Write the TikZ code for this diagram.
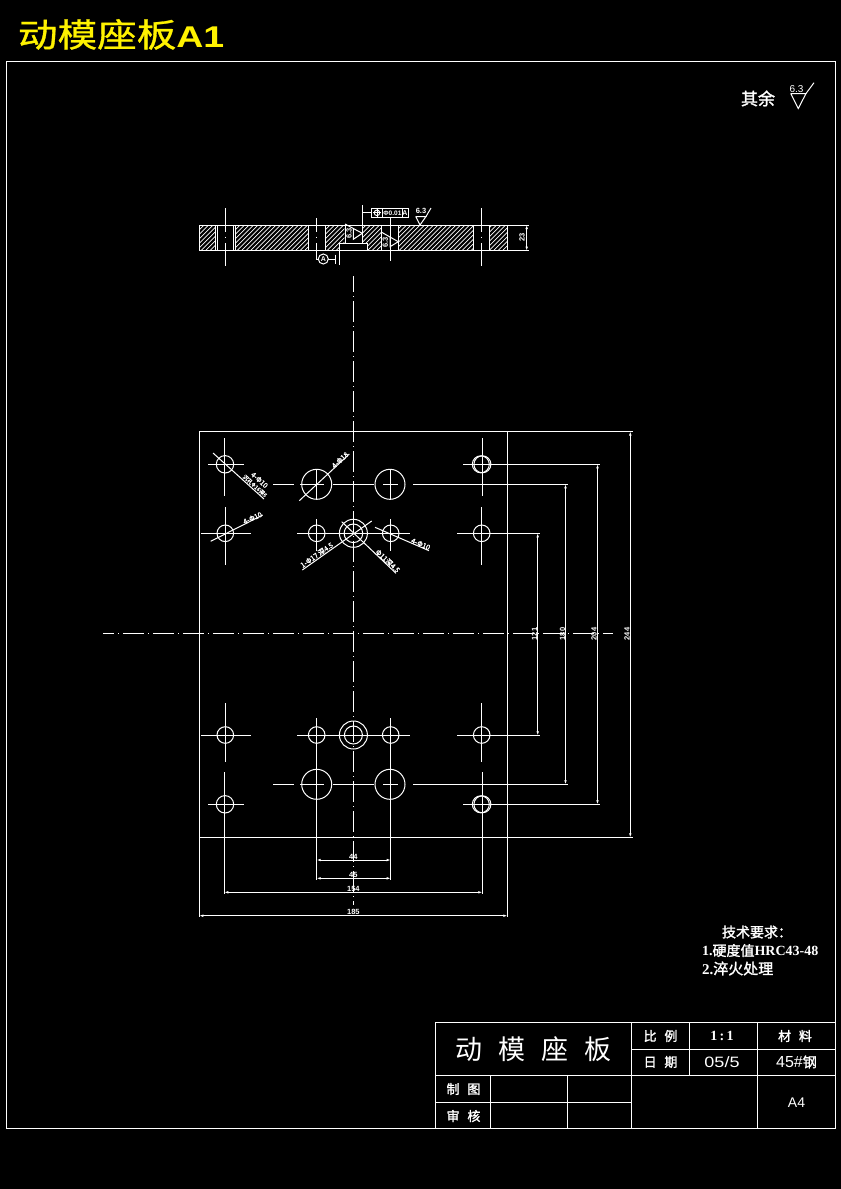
\documentclass[tikz,border=0pt]{standalone}
\usepackage{fontspec}
\usepackage{graphicx}
\usetikzlibrary{arrows.meta}
\setmainfont{Liberation Sans}
\newfontfamily\cjk{Noto Sans CJK SC}
\newfontfamily\cjkb[FakeBold=1.6]{Noto Sans CJK SC}
\newfontfamily\cjkt[FakeBold=0.8]{Noto Sans CJK SC}
\newfontfamily\sansb{Liberation Sans Bold}
\newfontfamily\serifb{Liberation Serif Bold}
\newcommand{\fs}[1]{\pgfmathsetmacro{\fz}{#1*0.75}\fontsize{\fz pt}{\fz pt}\selectfont}
\tikzset{
  cad/.style={draw=white,line width=0.75pt},
  hatchline/.style={draw=white,line width=0.6pt},
  centerh/.style={cad,dash pattern=on 15.75pt off 3pt on .75pt off 3pt,dash phase=7.5pt},
  centerv/.style={cad,dash pattern=on 15.75pt off 3pt on .75pt off 3pt,dash phase=3.75pt},
  dimline/.style={cad,{Latex[length=3pt,width=2pt]}-{Latex[length=3pt,width=2pt]}},
  lab/.style={text=white,inner sep=0pt,outer sep=0pt},
  dimtext/.style={lab,font=\fs{7.5}\sansb},
  leadtext/.style={lab,font=\fs{7}\cjkb},
  cell/.style={lab,font=\fs{13}\cjkb},
  req/.style={lab,font=\fs{14}\cjkb,anchor=west},
}
\begin{document}
\begin{tikzpicture}[x=0.75pt,y=-0.75pt]
\useasboundingbox (0,0) rectangle (841,1189);
\fill[black] (0,0) rectangle (841,1189);
% title
\node[lab,anchor=base west,text=yellow,font=\fs{33}\cjkt] (title) at (18,47) {\scalebox{1.2}[1]{动模座板}{\fs{30}\sansb\scalebox{1.25}[1]{A1}}};
% frame
\draw[cad] (6.5,61.5) rectangle (835,1128);
% roughness other
\node[lab,font=\fs{17}\cjkb] (rest) at (758,98.5) {其余};
\node[lab,font=\fs{10}] (ra) at (796.5,89) {6.3};
\draw[cad] (790.7,93.5) -- (806,93.5) -- (798.3,108.5) -- (790.7,93.5);
\draw[cad] (806,93.5) -- (814,82.7);

% ---------- section view
\begin{scope}
\clip (199.3,225) rectangle (215.7,250.6)
      (235,225) rectangle (308.3,250.6)
      (325.3,225) rectangle (339.3,250.6)
      (339.3,225) rectangle (344.3,243.3)
      (362.3,225) rectangle (367.3,243.3)
      (367.3,225) rectangle (381.7,250.6)
      (398.3,225) rectangle (473.3,250.6)
      (489.3,225) rectangle (507.3,250.6);
\foreach \k in {0,...,80}{
  \draw[hatchline] ({165+\k*4.5},250.6) -- ({190.6+\k*4.5},225);
}
\end{scope}
\draw[cad] (199.3,225) -- (529,225);
\draw[cad] (199.3,250.6) -- (529,250.6);
\foreach \xx in {199.3,215.7,217.3,233.3,235,308.3,325.3,381.7,398.3,473.3,489.3,507.3}{
  \draw[cad] (\xx,225) -- (\xx,250.6);
}
% recess
\draw[cad] (339.3,265) -- (339.3,243.3) -- (367.3,243.3) -- (367.3,250.6);
% section centre lines
\foreach \xx/\ya/\yb in {225/208/265.7,316.3/218/260,481/208/265.7}{
  \draw[cad] (\xx,\ya) -- (\xx,232);
  \draw[cad] (\xx,236.6) -- (\xx,237.6);
  \draw[cad] (\xx,243) -- (\xx,\yb);
}
% dim 23
\draw[dimline] (526.7,225) -- (526.7,250.6);
\node[dimtext,rotate=90] (d23) at (522,237.5) {23};
% datum A
\node[lab,draw=white,line width=.75pt,circle,minimum size=7.5pt,font=\fs{7}\sansb] (datum) at (323.3,259) {A};
\coordinate (datumstem) at (316.3,259);
\coordinate (datumtick) at (335.7,259);
\draw[cad] (datumstem) -- (datum);
\draw[cad] (datum) -- (datumtick);
\draw[cad] (335.7,254.5) -- (335.7,264);
% feature control frame
\draw[cad] (362.3,243.3) -- (362.3,205);
\draw[cad] (362.3,212.8) -- (371.3,212.8);
\draw[cad] (371.3,208) rectangle (408,217.6);
\draw[cad] (382.7,208) -- (382.7,217.6);
\draw[cad] (402,208) -- (402,217.6);
\draw[cad] (377,212.8) circle (2.8);
\draw[cad] (372.6,212.8) -- (381.4,212.8);
\draw[cad] (377,208.6) -- (377,217);
\node[lab,font=\fs{6.5}\sansb] (tol) at (392.4,213) {Φ0.01};
\node[lab,font=\fs{7}\sansb] (tola) at (405,213) {A};
\draw[cad] (390.3,217.6) -- (390.3,260.6);
% surface symbol on top
\node[lab,font=\fs{7.5}\sansb] (r1) at (421,211) {6.3};
\draw[cad] (415.7,216.5) -- (426,216.5) -- (420,225) -- (415.7,216.5);
\draw[cad] (426,216.5) -- (431,208);
% sideways symbols
\draw[cad] (345,224) -- (345,243.3);
\draw[cad] (345,224) -- (362.3,233.3);
\draw[cad] (353.3,229) -- (353.3,239.3) -- (362.3,233.3);
\node[dimtext,rotate=90] (r2) at (349,233.5) {6.3};
\draw[cad] (381.7,232.3) -- (398.3,241.7);
\draw[cad] (390,236.7) -- (390,246.7) -- (398.3,241.7);
\node[dimtext,rotate=90] (r3) at (385.3,242.5) {6.3};

% ---------- plan view
\draw[centerv] (353.4,276) -- (353.4,905);
\draw[centerh] (103,633.5) -- (613,633.5);
% plate outline & extension
\draw[cad] (632.7,431.5) -- (199.3,431.5) -- (199.3,917);
\draw[cad] (507.3,431.5) -- (507.3,917);
\draw[cad] (199.3,837.3) -- (632.7,837.3);
% holes
\foreach \cx/\cy/\r in {
  225/464.3/8.7, 225.3/533.3/8.3, 480.8/464.3/8.5, 482.4/464.3/8.5, 481.7/533.3/8.3,
  316.7/484.3/15, 390/484.3/15, 316.7/533.3/8.3, 390.7/533.3/8.3,
  353.4/533.3/14, 353.4/533.3/9.3,
  225.3/735/8.3, 316.7/735/8.3, 390.7/735/8.3, 353.4/735/14, 353.4/735/9, 481.7/735/8.3,
  316.7/784.3/15, 390/784.3/15, 225/804.3/8.7, 480.8/804.3/8.5, 482.4/804.3/8.5}{
  \draw[cad] (\cx,\cy) circle (\r);
}
% crosses
\foreach \xa/\ya/\xb/\yb in {
  224.3/438/224.3/495.7, 208/464.3/244/464.3,
  225.3/507.3/225.3/565, 201/533.3/251/533.3,
  482.3/438/482.3/495.7, 463/464.3/600/464.3,
  481.7/507.3/481.7/565, 457/533.3/539.7/533.3,
  273/484.3/294.3/484.3, 300/484.3/324/484.3, 333/484.3/374/484.3, 383/484.3/397.7/484.3, 413/484.3/567.7/484.3,
  316.7/469/316.7/500, 390/469/390/500,
  297/533.3/410/533.3, 316.7/519.3/316.7/550.7, 390.7/519.3/390.7/550.7,
  225.3/703.3/225.3/761.7, 201/735/251/735,
  481.7/703.3/481.7/761.7, 457/735/539.7/735,
  297/735/410/735, 316.7/718/316.7/880, 390.7/718/390.7/880,
  273/784.3/294.3/784.3, 300/784.3/324/784.3, 333/784.3/374/784.3, 383/784.3/397.7/784.3, 413/784.3/567.7/784.3,
  390/769/390/800,
  224.3/772/224.3/894.3, 208/804.3/244/804.3,
  482.3/772/482.3/894.3, 463/804.3/600/804.3}{
  \draw[cad] (\xa,\ya) -- (\xb,\yb);
}
% dimensions right
\draw[dimline] (537.7,533.3) -- (537.7,735.3);
\draw[dimline] (565.5,484.3) -- (565.5,784.3);
\draw[dimline] (597.5,464.3) -- (597.5,804.3);
\draw[dimline] (630.3,431.5) -- (630.3,837.3);
\node[dimtext,rotate=90] (v1) at (534.5,634) {121};
\node[dimtext,rotate=90] (v2) at (562.5,634) {180};
\node[dimtext,rotate=90] (v3) at (594,634) {204};
\node[dimtext,rotate=90] (v4) at (627,634) {244};
% dimensions bottom
\draw[dimline] (316.7,860) -- (390.7,860);
\draw[dimline] (316.7,878.3) -- (390.7,878.3);
\draw[dimline] (224.3,892.3) -- (482.3,892.3);
\draw[dimline] (199.3,915.7) -- (507.3,915.7);
\node[dimtext] (h1) at (353.4,857.3) {44};
\node[dimtext] (h2) at (353.4,875) {45};
\node[dimtext] (h3) at (353.4,889) {154};
\node[dimtext] (h4) at (353.4,912.3) {185};
% leaders
\draw[cad] (213,453) -- (264,499);
\node[leadtext,rotate=-42] (l1) at (259.5,480) {4-Φ10};
\node[lab,font=\fs{5.5}\cjkb,rotate=-42] (l1b) at (255,486) {沉孔Φ16深6};
\draw[cad] (210.7,541.3) -- (262.7,515);
\node[leadtext,rotate=24] (l2) at (252.5,518) {4-Φ10};
\draw[cad] (299.3,500.7) -- (349.3,454);
\node[leadtext,rotate=43] (l3) at (340,460) {4-Φ18};
\draw[cad] (302.3,570) -- (371.7,521);
\node[leadtext,rotate=35] (l4) at (316.7,555) {1-Φ17 深4.5};
\draw[cad] (341.7,521.7) -- (396,573.3);
\node[leadtext,rotate=-43] (l5) at (387.8,561) {Φ11深4.5};
\draw[cad] (375,527.3) -- (429,550.7);
\node[leadtext,rotate=-23] (l6) at (420.7,544) {4-Φ10};

% ---------- requirements
\node[lab,font=\fs{14}\cjkb] (rq0) at (757,932) {技术要求：};
\node[req] (rq1) at (702,950.5) {\serifb 1.\cjkb 硬度值\serifb HRC43-48};
\node[req,font=\fs{15}\cjkb] (rq2) at (702,968.5) {\serifb 2.\cjkb 淬火处理};

% ---------- title block
\draw[cad] (435.3,1128) -- (435.3,1022.3) -- (835,1022.3);
\draw[cad] (631.7,1049.3) -- (835,1049.3);
\draw[cad] (435.3,1075.3) -- (835,1075.3);
\draw[cad] (435.3,1102.3) -- (631.7,1102.3);
\draw[cad] (631.7,1022.3) -- (631.7,1128);
\draw[cad] (689.3,1022.3) -- (689.3,1075.3);
\draw[cad] (757.7,1022.3) -- (757.7,1128);
\draw[cad] (490.3,1075.3) -- (490.3,1128);
\draw[cad] (567.3,1075.3) -- (567.3,1128);
\node[lab,font=\fs{27}\cjk] (tb0) at (533.5,1049) {动\hspace{0.6em}模\hspace{0.6em}座\hspace{0.6em}板};
\node[cell] (tb1) at (660.5,1036) {比\hspace{0.6em}例};
\node[cell] (tb2) at (660.5,1062) {日\hspace{0.6em}期};
\node[lab,font=\fs{14}\serifb] (tb3) at (722,1036) {1\,:\,1};
\node[lab,font=\fs{15}] (tb4) at (722,1062) {\scalebox{1.2}[1]{05/5}};
\node[cell] (tb5) at (795,1036) {材\hspace{0.6em}料};
\node[lab,font=\fs{16}] (tb6) at (796.5,1062) {45\#{\fs{14}\cjkb 钢}};
\node[lab,font=\fs{14}] (tb7) at (796.5,1103) {A4};
\node[cell] (tb8) at (463.5,1089) {制\hspace{0.6em}图};
\node[cell] (tb9) at (463.5,1116) {审\hspace{0.6em}核};
\end{tikzpicture}
\end{document}
